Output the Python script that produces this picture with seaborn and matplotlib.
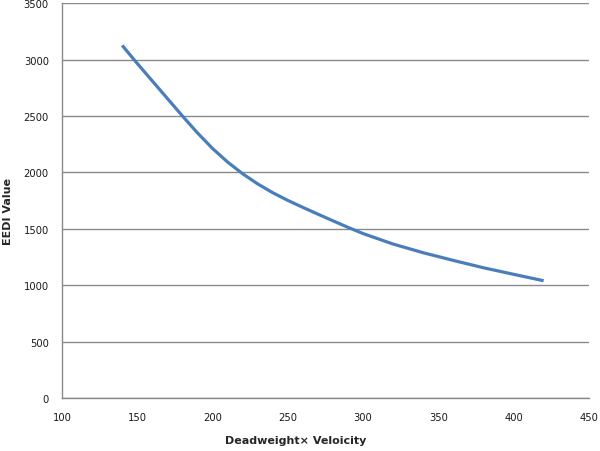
import matplotlib
matplotlib.use("Agg")
import matplotlib.pyplot as plt
import pandas as pd
import seaborn as sns

# ── Data ──────────────────────────────────────────────────────────────────────
dwt_velocity = [140, 150, 160, 170, 180, 190, 200, 210, 220, 230, 240, 250,
                260, 270, 280, 290, 300, 320, 340, 360, 380, 400, 420]
eedi_value   = [3125, 2965, 2810, 2655, 2500, 2350, 2212, 2092, 1988, 1898,
                1820, 1752, 1690, 1630, 1571, 1513, 1458, 1365, 1288, 1220,
                1155, 1097, 1040]

x_ticks = [100, 150, 200, 250, 300, 350, 400, 450]
y_ticks = [0, 500, 1000, 1500, 2000, 2500, 3000, 3500]

df = pd.DataFrame({"x": dwt_velocity, "y": eedi_value})

# ── Style ─────────────────────────────────────────────────────────────────────
sns.set_style("white")
plt.rcParams["font.family"] = ["DejaVu Sans"]

GRAY = "#8a8a8a"

fig = plt.figure(figsize=(6.0, 4.52), dpi=100)
ax = fig.add_axes([0.1033, 0.117, 0.878, 0.874])

sns.lineplot(data=df, x="x", y="y", ax=ax, color="#4A7EBB", linewidth=2.3,
             solid_capstyle="butt", solid_joinstyle="round")

ax.set_xlim(100, 450)
ax.set_ylim(0, 3500)
ax.set_xticks(x_ticks)
ax.set_yticks(y_ticks)
ax.yaxis.grid(True, color=GRAY, linewidth=1.0)
ax.set_axisbelow(True)

for side in ("top", "right"):
    ax.spines[side].set_visible(False)
for side in ("left", "bottom"):
    ax.spines[side].set_color(GRAY)
    ax.spines[side].set_linewidth(1.0)

ax.tick_params(axis="both", which="major", direction="out",
               color=GRAY, labelsize=7.2, labelcolor="#1a1a1a")
ax.tick_params(axis="x", length=4, pad=6)
ax.tick_params(axis="y", length=3, pad=6.5)

ax.set_xlabel("Deadweight× Veloicity", fontsize=8, fontweight="bold")
ax.set_ylabel("EEDI Value", fontsize=8, fontweight="bold")
# Excel places the titles slightly off the plot centre
ax.xaxis.set_label_coords(0.443, -0.094)
ax.yaxis.set_label_coords(-0.093, 0.476)

fig.savefig("out.png", dpi=100)
